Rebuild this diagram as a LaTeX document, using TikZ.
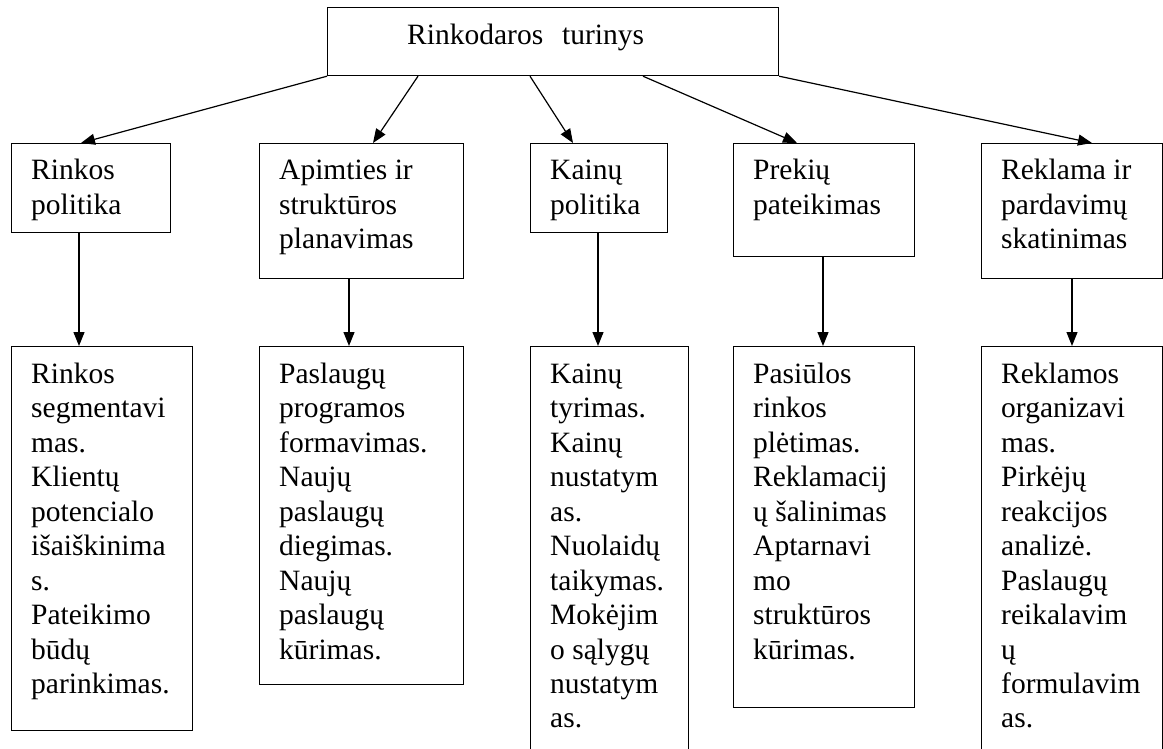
\documentclass[tikz,border=0pt]{standalone}
\usepackage{fontspec}
\setmainfont{Liberation Serif}
\usetikzlibrary{arrows.meta}
\newcommand{\mylines}[1]{\parbox[t]{200pt}{\raggedright\fontsize{29.5pt}{34.5pt}\selectfont #1}}
\tikzset{
  box/.style={draw, line width=1.2pt, inner sep=0pt, anchor=north west},
  lbl/.style={inner sep=0pt, anchor=base west},
  arr/.style={line width=1.2pt, -{Triangle[length=14pt,width=11pt]}}
}
\begin{document}
\begin{tikzpicture}[x=1pt,y=-1pt]
\useasboundingbox (0,0) rectangle (1163,749);
\clip (0,0) rectangle (1163,749);
% top box
\node[box, minimum width=451pt, minimum height=68pt] (top) at (327,7) {};
\node[lbl, font=\fontsize{29.5pt}{34.5pt}\selectfont] (toptext) at (407,45) {Rinkodaros\hspace{19pt}turinys};
% row 2
\node[box, minimum width=159pt, minimum height=89pt] (b1) at (11,143) {};
\node[box, minimum width=204pt, minimum height=135pt] (b2) at (259,143) {};
\node[box, minimum width=137pt, minimum height=89pt] (b3) at (530,143) {};
\node[box, minimum width=181pt, minimum height=113pt] (b4) at (733,143) {};
\node[box, minimum width=181pt, minimum height=135pt] (b5) at (981,143) {};
\node[lbl] (tb1) at (31,180) {\mylines{Rinkos\\politika}};
\node[lbl] (tb2) at (279,180) {\mylines{Apimties ir\\struktūros\\planavimas}};
\node[lbl] (tb3) at (550,180) {\mylines{Kainų\\politika}};
\node[lbl] (tb4) at (753,180) {\mylines{Prekių\\pateikimas}};
\node[lbl] (tb5) at (1001,180) {\mylines{Reklama ir\\pardavimų\\skatinimas}};
% row 3
\node[box, minimum width=181pt, minimum height=384pt] (c1) at (11,346) {};
\node[box, minimum width=204pt, minimum height=338pt] (c2) at (259,346) {};
\node[box, minimum width=158pt, minimum height=420pt] (c3) at (530,346) {};
\node[box, minimum width=181pt, minimum height=361pt] (c4) at (733,346) {};
\node[box, minimum width=181pt, minimum height=420pt] (c5) at (981,346) {};
\node[lbl] (tc1) at (31,383) {\mylines{Rinkos\\segmentavi\\mas.\\Klientų\\potencialo\\išaiškinima\\s.\\Pateikimo\\būdų\\parinkimas.}};
\node[lbl] (tc2) at (279,383) {\mylines{Paslaugų\\programos\\formavimas.\\Naujų\\paslaugų\\diegimas.\\Naujų\\paslaugų\\kūrimas.}};
\node[lbl] (tc3) at (550,383) {\mylines{Kainų\\tyrimas.\\Kainų\\nustatym\\as.\\Nuolaidų\\taikymas.\\Mokėjim\\o sąlygų\\nustatym\\as.}};
\node[lbl] (tc4) at (753,383) {\mylines{Pasiūlos\\rinkos\\plėtimas.\\Reklamacij\\ų šalinimas\\Aptarnavi\\mo\\struktūros\\kūrimas.}};
\node[lbl] (tc5) at (1001,383) {\mylines{Reklamos\\organizavi\\mas.\\Pirkėjų\\reakcijos\\analizė.\\Paslaugų\\reikalavim\\ų\\formulavim\\as.}};
% arrows top -> row 2
\draw[arr] (top.south west) -- ([xshift=70pt]b1.north west);
\draw[arr] ([xshift=91pt]top.south west) -- ([xshift=114pt]b2.north west);
\draw[arr] ([xshift=203pt]top.south west) -- ([xshift=43pt]b3.north west);
\draw[arr] ([xshift=316pt]top.south west) -- ([xshift=64pt]b4.north west);
\draw[arr] (top.south east) -- ([xshift=111pt]b5.north west);
% arrows row 2 -> row 3
\draw[arr] ([xshift=68pt]b1.south west) -- ([xshift=68pt]c1.north west);
\draw[arr] ([xshift=90pt]b2.south west) -- ([xshift=90pt]c2.north west);
\draw[arr] ([xshift=68pt]b3.south west) -- ([xshift=68pt]c3.north west);
\draw[arr] ([xshift=90pt]b4.south west) -- ([xshift=90pt]c4.north west);
\draw[arr] ([xshift=91pt]b5.south west) -- ([xshift=91pt]c5.north west);
\end{tikzpicture}
\end{document}
